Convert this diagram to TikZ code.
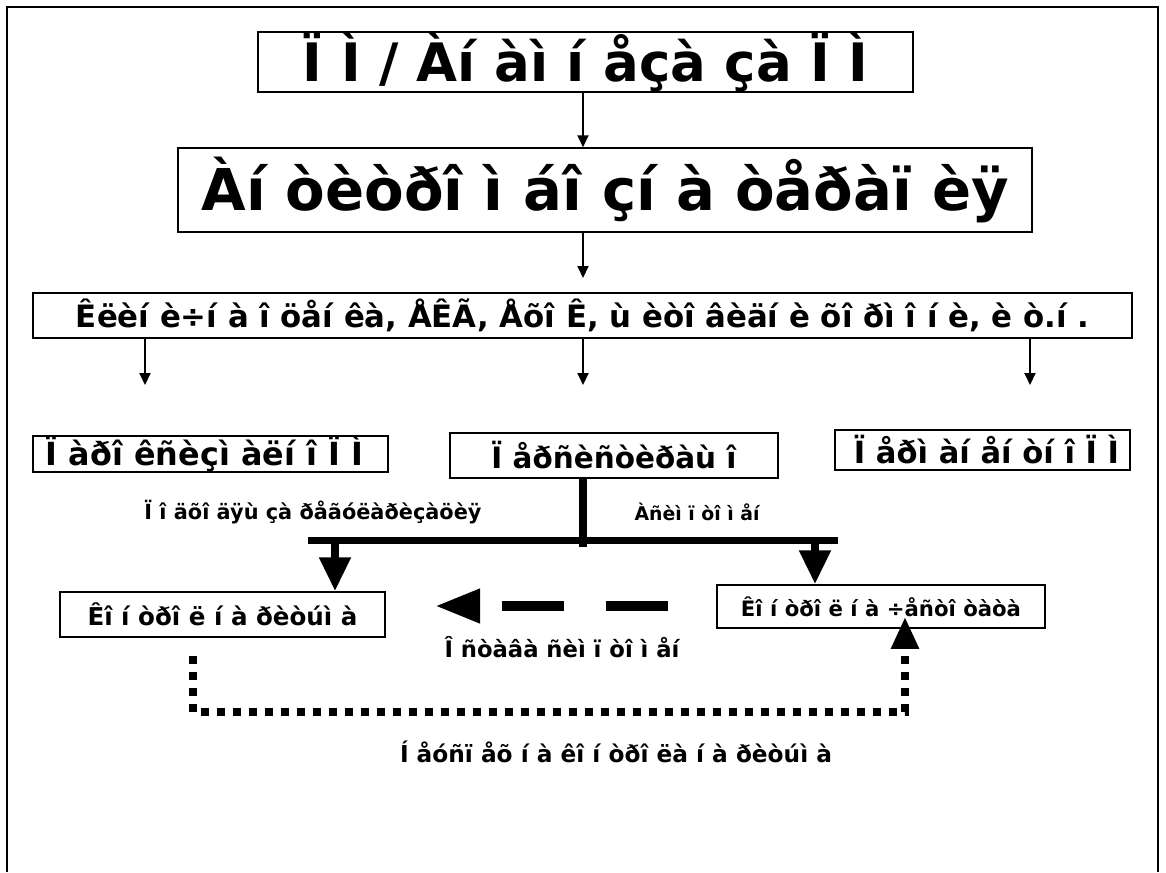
\documentclass[tikz,border=0pt]{standalone}
\usepackage{fontspec}
\setmainfont{DejaVu Sans}
\usetikzlibrary{arrows.meta}
\newcommand\fitw[2]{\resizebox{#1pt}{!}{\bfseries #2}}
\tikzset{
  box/.style={draw, line width=1.5pt, inner sep=0pt},
  lbl/.style={inner sep=0pt},
  thin/.style={line width=2pt, -{Triangle[length=12pt,width=11pt]}},
  heavy/.style={line width=8pt, -{Triangle[length=34pt,width=30pt]}},
  heavyline/.style={line width=8pt},
}
\begin{document}
\begin{tikzpicture}[x=1pt,y=-1pt]
\useasboundingbox (0,0) rectangle (1166,872);
% page frame
\draw[line width=1.5pt] (7,872) -- (7,7) -- (1158,7) -- (1158,872);

% boxes
\node[box, minimum width=655pt, minimum height=60pt] (b1) at (585.5,62) {\fitw{565}{Ï Ì / Àí àì í åçà çà Ï Ì}};
\node[box, minimum width=854pt, minimum height=84pt] (b2) at (605,190) {\fitw{807}{Àí òèòðî ì áî çí à òåðàï èÿ}};
\node[box, minimum width=1099pt, minimum height=45pt] (b3) at (582.5,315.5) {\fitw{1013}{Êëèí è÷í à î öåí êà, ÅÊÃ, Åõî Ê, ù èòî âèäí è õî ðì î í è, è ò.í .}};
\node[box, minimum width=355pt, minimum height=36pt] (b4) at (210.5,454) {\hspace*{-12pt}\fitw{317}{Ï àðî êñèçì àëí î Ï Ì}};
\node[box, minimum width=328pt, minimum height=45pt] (b5) at (614,455.5) {\fitw{245}{Ï åðñèñòèðàù î}};
\node[box, minimum width=295pt, minimum height=40pt] (b6) at (982.5,450) {\hspace*{8pt}\fitw{265}{Ï åðì àí åí òí î Ï Ì}};
\node[box, minimum width=325pt, minimum height=45pt] (b7) at (222.5,614.5) {\fitw{270}{Êî í òðî ë í à ðèòúì à}};
\node[box, minimum width=328pt, minimum height=43pt] (b8) at (881,606.5) {\fitw{280}{Êî í òðî ë í à ÷åñòî òàòà}};

% free labels
\node[lbl] (l1) at (313,512) {\fitw{337}{Ï î äõî äÿù  çà ðåãóëàðèçàöèÿ}};
\node[lbl] (l2) at (697,512) {\fitw{125}{Àñèì ï òî ì åí}};
\node[lbl] (l3) at (562,647) {\fitw{235}{Î ñòàâà ñèì ï òî ì åí}};
\node[lbl] (l4) at (616,752) {\fitw{432}{Í åóñï åõ í à êî í òðî ëà í à ðèòúì à}};

% thin arrows
\coordinate (a00) at (583,0);
\draw[thin] (b1.south -| a00) -- (b2.north -| a00);
\coordinate (a0) at (583,278);
\draw[thin] (b2.south -| a0) -- (a0);
\coordinate (a1) at (145,385);
\coordinate (a2) at (583,385);
\coordinate (a3) at (1030,385);
\draw[thin] (b3.south -| a1) -- (a1);
\draw[thin] (b3.south -| a2) -- (a2);
\draw[thin] (b3.south -| a3) -- (a3);

% heavy split below the persisting case
\coordinate (tj) at (583,547);
\coordinate (tl) at (308,540);
\coordinate (tr) at (838,540);
\draw[heavyline] (b5.south -| tj) -- (tj);
\draw[heavyline, line width=7pt] (tl) -- (tr);
\coordinate (hl) at (335,540);
\coordinate (hr) at (815,540);
\draw[heavy] (hl) -- (b7.north -| hl);
\draw[heavy] (hr) -- (b8.north -| hr);

% dashed return arrow
\coordinate (ds) at (668,606);
\coordinate (de) at (435,606);
\draw[line width=10pt, dash pattern=on 62pt off 42pt, -{Triangle[length=45pt,width=32pt]}] (ds) -- (de);

% dotted escalation path
\coordinate (p1) at (193,712);
\coordinate (p2) at (905,712);
\draw[line width=8pt, dash pattern=on 8pt off 8pt, -{Triangle[length=32pt,width=26pt]}]
  (b7.south -| p1) ++(0,18) -- (p1) -- (p2) -- ([yshift=12pt]b8.south -| p2);
\end{tikzpicture}
\end{document}
